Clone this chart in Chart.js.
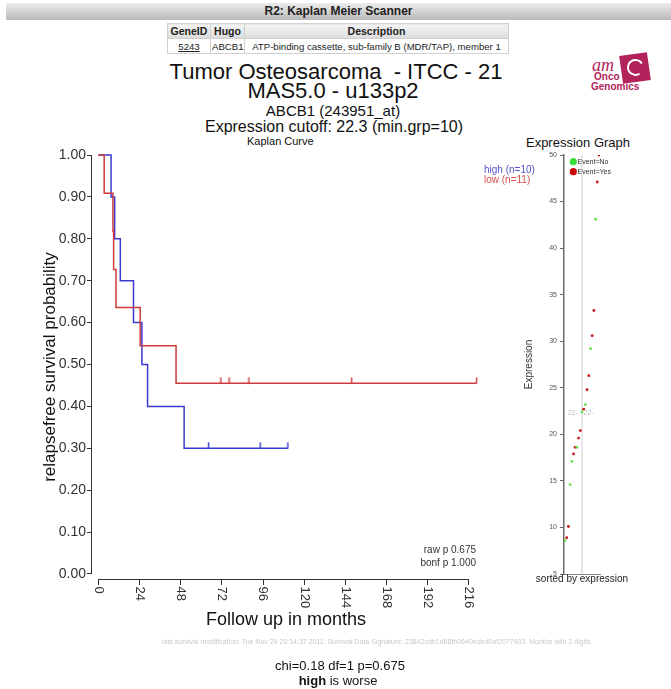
<!DOCTYPE html>
<html>
<head>
<meta charset="utf-8">
<script src="https://cdn.jsdelivr.net/npm/chart.js@4.4.1/dist/chart.umd.min.js"></script>
<style>
  body { margin: 0; width: 671px; height: 689px; position: relative; overflow: hidden; background: #fff;
         font-family: "Liberation Sans", Arial, Helvetica, sans-serif; color: #111; }
  .t { position: absolute; white-space: pre; transform: translate(-50%, -50%); }
  .l { position: absolute; white-space: pre; transform: translateY(-50%); }
  #bar { position: absolute; left: 6px; top: 3px; width: 665px; height: 17px; line-height: 17px;
         background: linear-gradient(#ececec, #b9b9b9); text-align: center; font-weight: bold; font-size: 12px; color: #222; }
  #gene { position: absolute; left: 167px; top: 23px; width: 341px; border-collapse: collapse; table-layout: fixed;
          font-size: 9.6px; color: #222; white-space: nowrap; }
  #gene td, #gene th { border: 1px solid #d0d0d0; padding: 0 1px; height: 14px; text-align: center; overflow: hidden; }
  #gene th { background: linear-gradient(#f4f4f4, #dcdcdc); font-size: 10.5px; }
  #gene a { color: #222; }
  canvas { position: absolute; }
  #sq { position: absolute; left: 621px; top: 54px; width: 28px; height: 28px; background: #b3235b; transform: rotate(-8deg); }
  #arc { position: absolute; left: 6px; top: 5px; width: 13px; height: 13px; border: 2.5px solid #fff;
         border-right-color: transparent; border-radius: 50%; transform: rotate(20deg); }
  .logo { position: absolute; color: #b3235b; white-space: pre; }
</style>
</head>
<body>
<div id="bar">R2: Kaplan Meier Scanner</div>
<table id="gene">
  <colgroup><col style="width:43px"><col style="width:34px"><col style="width:264px"></colgroup>
  <tr><th>GeneID</th><th>Hugo</th><th>Description</th></tr>
  <tr><td><a href="#">5243</a></td><td>ABCB1</td><td>ATP-binding cassette, sub-family B (MDR/TAP), member 1</td></tr>
</table>

<div id="sq"><div id="arc"></div></div>
<div class="logo" style="left:592px;top:55px;font:italic 18px 'Liberation Serif', 'DejaVu Serif', serif;">am</div>
<div class="logo" style="left:594px;top:71px;font:bold 10px 'Liberation Sans', Arial, sans-serif;">Onco</div>
<div class="logo" style="left:591px;top:81px;font:bold 10px 'Liberation Sans', Arial, sans-serif;">Genomics</div>

<div class="t" style="left:336px;top:72px;font-size:22px">Tumor Osteosarcoma  - ITCC - 21</div>
<div class="t" style="left:333px;top:91px;font-size:22px">MAS5.0 - u133p2</div>
<div class="t" style="left:333px;top:110px;font-size:15px">ABCB1 (243951_at)</div>
<div class="t" style="left:334px;top:127px;font-size:16px">Expression cutoff: 22.3 (min.grp=10)</div>
<div class="l" style="left:247px;top:141px;font-size:11px">Kaplan Curve</div>
<div class="t" style="left:578px;top:142px;font-size:13px">Expression Graph</div>

<canvas id="km" width="545" height="500" style="left:0;top:140px"></canvas>
<canvas id="expr" width="161" height="460" style="left:510px;top:130px"></canvas>

<div class="l" style="left:162px;top:641px;font-size:7px;color:#c8c8c8">last survival modification: Tue Nov 29 20:14:37 2011. Survival Data Signature: 23842cdb1d88fb0640eded0af2077403. Months with 2 digits.</div>
<div class="t" style="left:340px;top:665px;font-size:13px">chi=0.18 df=1 p=0.675</div>
<div class="t" style="left:338px;top:680px;font-size:13px"><b>high</b> is worse</div>

<script>
Chart.defaults.font.family = '"Liberation Sans", Arial, Helvetica, sans-serif';
Chart.defaults.color = '#333';

// Kaplan-Meier data (months / survival)
const timeTicks = [0, 24, 48, 72, 96, 120, 144, 168, 192, 216];
const survTicks = [0, 0.1, 0.2, 0.3, 0.4, 0.5, 0.6, 0.7, 0.8, 0.9, 1.0];

const highTimes = [0, 7.4, 9.5, 12.8, 20.5, 25.4, 28.7, 50.0, 110.5];
const highSurv = [1.0, 0.9, 0.8, 0.7, 0.6, 0.5, 0.4, 0.3, 0.3];
const highCensor = [64.3, 94.3, 110.5];

const lowTimes = [0, 3.4, 8.5, 8.9, 10.3, 24.4, 45.3, 220.5];
const lowSurv = [1.0, 0.909, 0.818, 0.727, 0.636, 0.545, 0.455, 0.455];
const lowCensor = [71.5, 76.2, 87.8, 147.7, 220.5];

const groupLabels = ['high (n=10)', 'low (n=11)'];
const pTexts = ['raw p 0.675', 'bonf p 1.000'];

// expression graph data (sorted by expression)
const exprValues = [8.6, 8.9, 10.1, 14.6, 17.1, 17.9, 18.6, 18.6, 19.6, 20.4, 22.4,
                    22.7, 23.2, 24.8, 26.3, 29.2, 30.6, 33.3, 43.1, 47.1, 50.0];
const exprEvent = [0, 1, 1, 0, 0, 1, 1, 0, 1, 1, 0, 1, 0, 1, 1, 0, 1, 1, 0, 1, 1];
const exprTicks = [5, 10, 15, 20, 25, 30, 35, 40, 45, 50];
const cutoff = 22.3;
const cutoffRank = 11;

const BLUE = '#3b3bcf', RED = '#d03a3a';

function censorMark(color) {
  const c = document.createElement('canvas');
  c.width = 3; c.height = 14;
  const g = c.getContext('2d');
  g.strokeStyle = color; g.lineWidth = 1.4;
  g.beginPath(); g.moveTo(1.5, 1); g.lineTo(1.5, 7.5); g.stroke();
  return c;
}

const kmDecor = {
  id: 'kmDecor',
  afterDraw(chart) {
    const { ctx, chartArea, scales: { x, y } } = chart;
    ctx.save();
    ctx.strokeStyle = '#333';
    ctx.lineWidth = 1;
    const yb = chartArea.bottom + 0.5, xl = chartArea.left - 0.5;
    ctx.beginPath();
    ctx.moveTo(x.getPixelForValue(timeTicks[0]), yb);
    ctx.lineTo(x.getPixelForValue(timeTicks[timeTicks.length - 1]), yb);
    ctx.moveTo(xl, y.getPixelForValue(survTicks[0]));
    ctx.lineTo(xl, y.getPixelForValue(survTicks[survTicks.length - 1]));
    ctx.stroke();

    // x tick labels, turned to read downwards
    ctx.fillStyle = '#333';
    ctx.font = '13px "Liberation Sans", Arial, sans-serif';
    ctx.textAlign = 'left';
    ctx.textBaseline = 'middle';
    timeTicks.forEach(t => {
      ctx.save();
      ctx.translate(x.getPixelForValue(t), yb + 7);
      ctx.rotate(Math.PI / 2);
      ctx.fillText(String(t), 0, 0);
      ctx.restore();
    });

    // group legend
    ctx.font = '10px "Liberation Sans", Arial, sans-serif';
    ctx.fillStyle = '#5353cc';
    ctx.fillText(groupLabels[0], 484, 30);
    ctx.fillStyle = '#de4c4c';
    ctx.fillText(groupLabels[1], 484, 40);

    // p values
    ctx.fillStyle = '#333';
    ctx.textAlign = 'right';
    ctx.fillText(pTexts[0], 476, 410);
    ctx.fillText(pTexts[1], 476, 423);
    ctx.restore();
  }
};

new Chart(document.getElementById('km'), {
  type: 'scatter',
  data: {
    datasets: [
      {
        label: 'low',
        data: lowTimes.map((t, i) => ({ x: t, y: lowSurv[i] })),
        showLine: true, stepped: 'before', borderColor: RED, borderWidth: 1.5,
        pointRadius: 0, clip: false
      },
      {
        label: 'high',
        data: highTimes.map((t, i) => ({ x: t, y: highSurv[i] })),
        showLine: true, stepped: 'before', borderColor: BLUE, borderWidth: 1.5,
        pointRadius: 0, clip: false
      },
      {
        label: 'low censored',
        data: lowCensor.map(t => ({ x: t, y: lowSurv[lowSurv.length - 1] })),
        pointStyle: censorMark(RED), pointRadius: 4, clip: false
      },
      {
        label: 'high censored',
        data: highCensor.map(t => ({ x: t, y: highSurv[highSurv.length - 1] })),
        pointStyle: censorMark(BLUE), pointRadius: 4, clip: false
      }
    ]
  },
  options: {
    responsive: false,
    animation: false,
    layout: { padding: { left: 0, top: 15, right: 65, bottom: 0 } },
    plugins: { legend: { display: false }, tooltip: { enabled: false } },
    scales: {
      x: {
        type: 'linear', min: -3.7, max: 222.5,
        afterBuildTicks: s => { s.ticks = timeTicks.map(v => ({ value: v })); },
        afterFit: s => { s.height = 61; },
        ticks: { display: false },
        grid: { drawOnChartArea: false, tickLength: 6, color: '#333' },
        border: { display: false },
        title: { display: true, text: 'Follow up in months', color: '#111',
                 font: { size: 18 }, padding: { top: 0, bottom: 9 } }
      },
      y: {
        min: -0.012, max: 1.0,
        afterBuildTicks: s => { s.ticks = survTicks.map(v => ({ value: v })); },
        afterFit: s => { s.width = 92; },
        ticks: { callback: v => v.toFixed(2), font: { size: 14 }, color: '#333', padding: 1, autoSkip: false },
        grid: { drawOnChartArea: false, tickLength: 5, color: '#333' },
        border: { display: false },
        title: { display: true, text: 'relapsefree survival probability', color: '#111',
                 font: { size: 17 }, padding: { top: 40, bottom: 0 } }
      }
    }
  },
  plugins: [kmDecor]
});

const exprDecor = {
  id: 'exprDecor',
  afterDraw(chart) {
    const { ctx, chartArea, scales: { x, y } } = chart;
    ctx.save();
    ctx.font = '7px "Liberation Sans", Arial, sans-serif';
    ctx.textBaseline = 'middle';
    const cx = x.getPixelForValue(cutoffRank), cy = y.getPixelForValue(cutoff);
    ctx.fillStyle = '#bdbdbd';
    ctx.textAlign = 'right';
    ctx.fillText(Math.round(cutoff) + '-', cx - 4, cy);
    ctx.textAlign = 'left';
    ctx.fillText(Math.round(cutoff) + '-', cx + 1.5, cy);

    // legend
    const ds = chart.data.datasets;
    [0, 1].forEach(i => {
      const ly = 31.7 + i * 10;
      ctx.fillStyle = ds[i].legendColor;
      ctx.beginPath(); ctx.arc(63.3, ly, 3.6, 0, Math.PI * 2); ctx.fill();
      ctx.fillStyle = '#333';
      ctx.fillText(ds[i].label, 67.5, ly);
    });

    ctx.font = '10px "Liberation Sans", Arial, sans-serif';
    ctx.textAlign = 'center';
    ctx.fillStyle = '#222';
    ctx.fillText('sorted by expression', 72, chartArea.bottom + 5);
    ctx.restore();
  }
};

const ranks = exprValues.map((v, i) => i + 1);
new Chart(document.getElementById('expr'), {
  type: 'scatter',
  data: {
    datasets: [
      {
        label: 'Event=No', legendColor: '#3ddc3d',
        data: ranks.filter((r, i) => !exprEvent[i]).map(r => ({ x: r, y: exprValues[r - 1] })),
        pointRadius: 1.4, pointBorderWidth: 0, backgroundColor: '#62e04a'
      },
      {
        label: 'Event=Yes', legendColor: '#cc0a0a',
        data: ranks.filter((r, i) => exprEvent[i]).map(r => ({ x: r, y: exprValues[r - 1] })),
        pointRadius: 1.4, pointBorderWidth: 0, backgroundColor: '#c81414'
      },
      {
        label: 'cutoff',
        data: [{ x: cutoffRank, y: exprTicks[0] }, { x: cutoffRank, y: exprTicks[exprTicks.length - 1] }],
        showLine: true, pointRadius: 0, borderColor: '#d0d0d0', borderWidth: 1, order: 5
      }
    ]
  },
  options: {
    responsive: false,
    animation: false,
    layout: { padding: { left: 0, top: 25, right: 71, bottom: 0 } },
    plugins: { legend: { display: false }, tooltip: { enabled: false } },
    scales: {
      x: {
        type: 'linear', min: 0.4, max: 21.6,
        afterFit: s => { s.height = 16; },
        ticks: { display: false },
        grid: { display: false },
        border: { display: true, color: '#888', width: 1 }
      },
      y: {
        min: 5, max: 50,
        afterBuildTicks: s => { s.ticks = exprTicks.map(v => ({ value: v })); },
        afterFit: s => { s.width = 54; },
        ticks: { font: { size: 7 }, color: '#555', padding: 3, autoSkip: false },
        grid: { drawOnChartArea: false, tickLength: 4, color: '#666' },
        border: { display: true, color: '#6a6a6a', width: 1.5 },
        title: { display: true, text: 'Expression', color: '#333', font: { size: 10 }, padding: { top: 13, bottom: 0 } }
      }
    }
  },
  plugins: [exprDecor]
});
</script>
</body>
</html>
